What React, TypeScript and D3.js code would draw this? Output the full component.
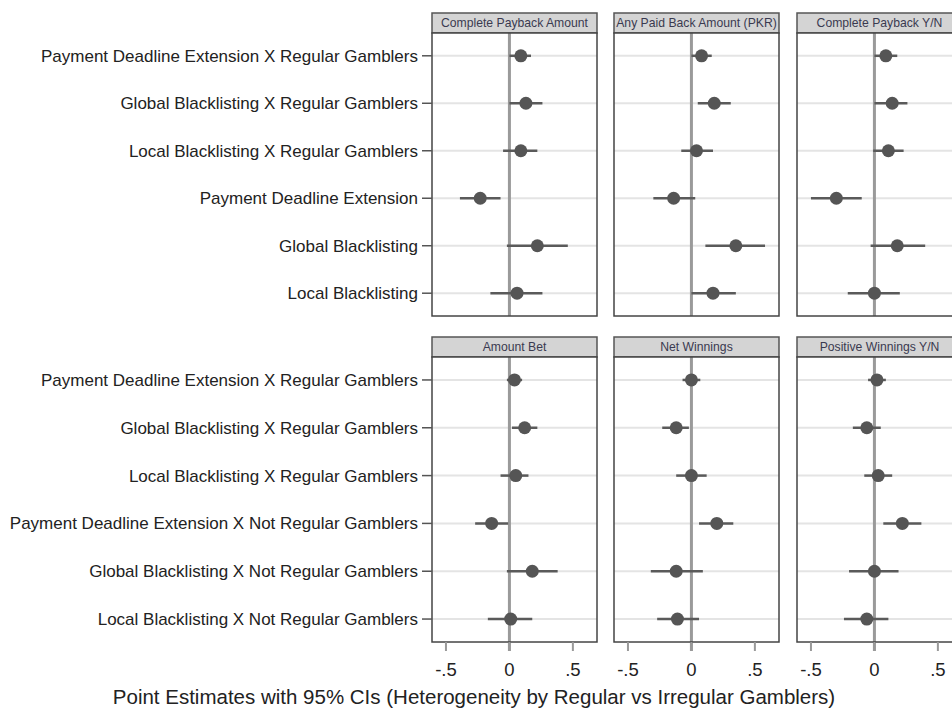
import React from 'react';
import * as d3 from 'd3';

// row labels (top to bottom)
const rowsTop = [
  'Payment Deadline Extension X Regular Gamblers',
  'Global Blacklisting X Regular Gamblers',
  'Local Blacklisting X Regular Gamblers',
  'Payment Deadline Extension',
  'Global Blacklisting',
  'Local Blacklisting',
];
const rowsBottom = [
  'Payment Deadline Extension X Regular Gamblers',
  'Global Blacklisting X Regular Gamblers',
  'Local Blacklisting X Regular Gamblers',
  'Payment Deadline Extension X Not Regular Gamblers',
  'Global Blacklisting X Not Regular Gamblers',
  'Local Blacklisting X Not Regular Gamblers',
];

const outcomesTop = ['Complete Payback Amount', 'Any Paid Back Amount (PKR)', 'Complete Payback Y/N'];
const outcomesBottom = ['Amount Bet', 'Net Winnings', 'Positive Winnings Y/N'];

// point estimates, lower and upper 95% CI per panel (rows in order above)
const estTop = [
  [0.09, 0.13, 0.09, -0.23, 0.22, 0.06],
  [0.08, 0.18, 0.04, -0.14, 0.35, 0.17],
  [0.09, 0.14, 0.11, -0.30, 0.18, 0.0],
];
const loTop = [
  [0.0, 0.0, -0.05, -0.39, -0.02, -0.15],
  [0.0, 0.05, -0.08, -0.30, 0.11, 0.0],
  [0.0, 0.0, -0.01, -0.50, -0.03, -0.21],
];
const hiTop = [
  [0.17, 0.26, 0.22, -0.07, 0.46, 0.26],
  [0.16, 0.31, 0.17, 0.03, 0.58, 0.35],
  [0.18, 0.26, 0.23, -0.10, 0.40, 0.20],
];
const estBottom = [
  [0.04, 0.12, 0.05, -0.14, 0.18, 0.01],
  [0.0, -0.12, 0.0, 0.2, -0.12, -0.11],
  [0.02, -0.06, 0.03, 0.22, 0.0, -0.06],
];
const loBottom = [
  [-0.02, 0.02, -0.07, -0.27, -0.02, -0.17],
  [-0.07, -0.23, -0.12, 0.06, -0.32, -0.27],
  [-0.05, -0.17, -0.08, 0.07, -0.2, -0.24],
];
const hiBottom = [
  [0.1, 0.22, 0.15, -0.01, 0.38, 0.18],
  [0.07, -0.02, 0.12, 0.33, 0.09, 0.06],
  [0.09, 0.05, 0.14, 0.37, 0.19, 0.11],
];

const xTicks = [-0.5, 0, 0.5];
const xTickLabels = ['-.5', '0', '.5'];

const panelLefts = [432, 614, 797];
const panelW = 165;
const headerH = 20;
const font = 'Liberation Sans, Arial, sans-serif';

type PanelProps = {
  left: number;
  top: number;
  bottom: number;
  title: string;
  rows: string[];
  est: number[];
  lo: number[];
  hi: number[];
  showY: boolean;
  showX: boolean;
};

const Panel = ({ left, top, bottom, title, rows, est, lo, hi, showY, showX }: PanelProps) => {
  const x = d3.scaleLinear().domain([-0.61, 0.69]).range([left, left + panelW]);
  const y = d3.scalePoint<string>().domain(rows).range([top, bottom]).padding(0.48);
  return (
    <g>
      {/* header strip */}
      <rect x={left} y={top - headerH} width={panelW} height={headerH} fill="#d4d4d4" stroke="#555" strokeWidth={1.5} />
      <text x={left + panelW / 2} y={top - headerH / 2 + 4} textAnchor="middle" fontSize={12.2} fill="#3a3a50" fontFamily={font}>
        {title}
      </text>
      <rect x={left} y={top} width={panelW} height={bottom - top} fill="#fff" />
      {/* row gridlines */}
      {rows.map((r) => (
        <line key={r} x1={left} x2={left + panelW} y1={y(r)} y2={y(r)} stroke="#e4e4e4" strokeWidth={2} />
      ))}
      {/* zero line */}
      <line x1={x(0)} x2={x(0)} y1={top} y2={showX ? bottom + 9 : bottom} stroke="#9a9a9a" strokeWidth={3} />
      {/* CIs and points */}
      {rows.map((r, i) => (
        <g key={'m' + i}>
          <line x1={x(lo[i])} x2={x(hi[i])} y1={y(r)} y2={y(r)} stroke="#5a5a5a" strokeWidth={2.5} />
          <circle cx={x(est[i])} cy={y(r)} r={6.5} fill="#555" />
        </g>
      ))}
      <rect x={left} y={top} width={panelW} height={bottom - top} fill="none" stroke="#444" strokeWidth={1.5} />
      {showY &&
        rows.map((r) => (
          <g key={'y' + r}>
            <line x1={left - 10} x2={left} y1={y(r)} y2={y(r)} stroke="#555" strokeWidth={1.5} />
            <text x={left - 14} y={y(r)! + 6} textAnchor="end" fontSize={17} fill="#222" fontFamily={font}>
              {r}
            </text>
          </g>
        ))}
      {showX &&
        xTicks.map((t, i) => (
          <g key={'x' + t}>
            <line x1={x(t)} x2={x(t)} y1={bottom} y2={bottom + 9} stroke="#999" strokeWidth={2} />
            <text x={x(t)} y={bottom + 34} textAnchor="middle" fontSize={18.5} fill="#222" fontFamily={font}>
              {xTickLabels[i]}
            </text>
          </g>
        ))}
    </g>
  );
};

export default function App() {
  return (
    <svg width={952} height={709} style={{ position: 'absolute', left: 0, top: 0, background: '#fff' }}>
      <rect width={952} height={709} fill="#fff" />
      {panelLefts.map((l, i) => (
        <Panel
          key={'t' + i}
          left={l}
          top={33}
          bottom={316}
          title={outcomesTop[i]}
          rows={rowsTop}
          est={estTop[i]}
          lo={loTop[i]}
          hi={hiTop[i]}
          showY={i === 0}
          showX={false}
        />
      ))}
      {panelLefts.map((l, i) => (
        <Panel
          key={'b' + i}
          left={l}
          top={357}
          bottom={642}
          title={outcomesBottom[i]}
          rows={rowsBottom}
          est={estBottom[i]}
          lo={loBottom[i]}
          hi={hiBottom[i]}
          showY={i === 0}
          showX={true}
        />
      ))}
      <text x={474} y={704} textAnchor="middle" fontSize={20.5} fill="#222" fontFamily={font}>
        Point Estimates with 95% CIs (Heterogeneity by Regular vs Irregular Gamblers)
      </text>
    </svg>
  );
}
